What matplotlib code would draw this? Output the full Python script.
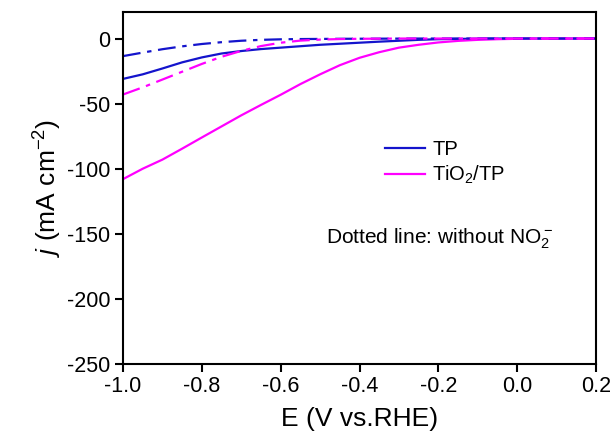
import matplotlib
matplotlib.use("Agg")
import matplotlib.pyplot as plt

plt.rcParams['font.family'] = ['Liberation Sans', 'DejaVu Sans']
plt.rcParams['mathtext.fontset'] = 'custom'
plt.rcParams['mathtext.rm'] = 'Liberation Sans'
plt.rcParams['mathtext.it'] = 'Liberation Sans:italic'
plt.rcParams['mathtext.default'] = 'regular'
plt.rcParams['axes.unicode_minus'] = False

E = [-1.0, -0.95, -0.9, -0.85, -0.8, -0.75, -0.7, -0.65, -0.6, -0.55, -0.5,
     -0.45, -0.4, -0.35, -0.3, -0.25, -0.2, -0.15, -0.1, -0.05, 0.0,
     0.05, 0.1, 0.15, 0.2]

tp = [-31, -27.5, -23, -18.3, -14.5, -11.5, -9.6, -8.1, -7, -5.9, -4.8,
      -4, -3.2, -2.4, -1.7, -1.0, -0.5, -0.3, -0.1, 0, 0,
      0, 0, 0, 0]
tio2_tp = [-108, -100, -93, -84.6, -76, -67.5, -59, -51, -43.2, -35, -27.5,
           -20.5, -14.8, -10.5, -7, -4.8, -3, -1.8, -1.0, -0.5, -0.2,
           0, 0, 0, 0]
tp_no = [-13.5, -10.8, -8.2, -6, -4.2, -2.8, -1.7, -1.0, -0.6, -0.4, -0.3,
         -0.2, -0.15, -0.1, -0.05, 0, 0, 0, 0, 0, 0,
         0, 0, 0, 0]
tio2_tp_no = [-43, -37.5, -31.5, -25.5, -19.5, -14, -9.5, -5.8, -3.2, -1.6, -0.8,
              -0.4, -0.2, -0.1, 0, 0, 0, 0, 0, 0, 0,
              0, 0, 0, 0]

xticks = [-1.0, -0.8, -0.6, -0.4, -0.2, 0.0, 0.2]
yticks = [0, -50, -100, -150, -200, -250]

blue = '#1414CC'
mag = '#FF00FF'

fig = plt.figure(figsize=(6.14, 4.38), dpi=100)
ax = fig.add_axes([123/614, 1-364/438, (596-123)/614, (364-12.5)/438])

ax.plot(E, tp, color=blue, lw=1.6, label='TP')
ax.plot(E, tio2_tp, color=mag, lw=1.6, label='TiO$_2$/TP')
ax.plot(E, tp_no, color=blue, lw=1.6, dashes=(8, 3, 2, 3))
ax.plot(E, tio2_tp_no, color=mag, lw=1.6, dashes=(8, 3, 2, 3))

ax.set_xlim(-1.0, 0.2)
ax.set_ylim(-250, 20)
ax.set_xticks(xticks)
ax.set_xticklabels(['%.1f' % v for v in xticks])
ax.set_yticks(yticks)
ax.tick_params(direction='out', length=6, width=1.5, labelsize=15.5, pad=3,
               top=False, right=False)
for s in ax.spines.values():
    s.set_linewidth(1.5)

ax.set_xlabel('E (V vs.RHE)', fontsize=19, labelpad=7)
ax.set_ylabel('$\\it{j}$ (mA cm$^{-2}$)', fontsize=19, labelpad=2)

ax.legend(loc='upper left', bbox_to_anchor=(0.515, 0.69), frameon=False,
          fontsize=14.5, handlelength=2.0, handletextpad=0.35, labelspacing=0.25)
ax.text(0.43, 0.355, 'Dotted line: without NO$_2^-$', transform=ax.transAxes,
        fontsize=15, ha='left', va='center')

fig.savefig('out.png', dpi=100)
